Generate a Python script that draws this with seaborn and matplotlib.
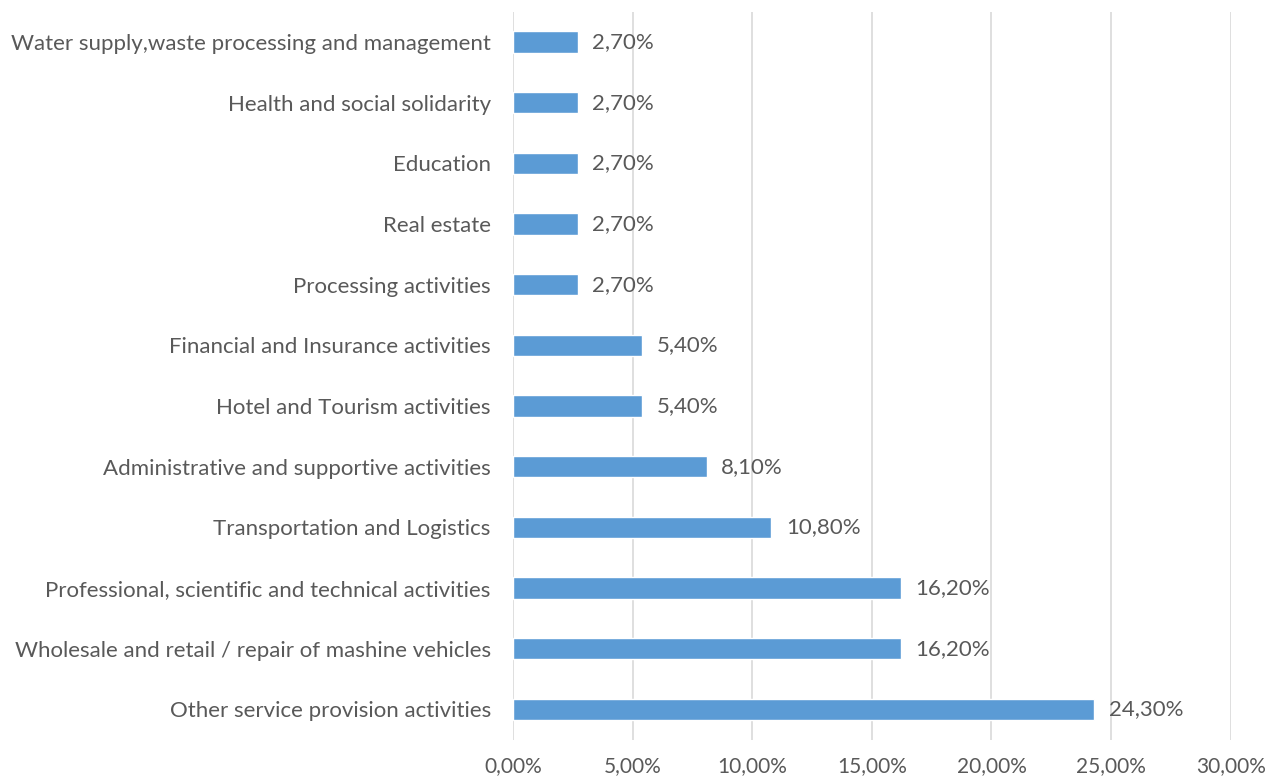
import matplotlib
matplotlib.use("Agg")
import matplotlib.pyplot as plt
import seaborn as sns
import pandas as pd

categories = [
    "Water supply,waste processing and management",
    "Health and social solidarity",
    "Education",
    "Real estate",
    "Processing activities",
    "Financial and Insurance activities",
    "Hotel and Tourism activities",
    "Administrative and supportive activities",
    "Transportation and Logistics",
    "Professional, scientific and technical activities",
    "Wholesale and retail / repair of mashine vehicles",
    "Other service provision activities",
]
shares = [2.7, 2.7, 2.7, 2.7, 2.7, 5.4, 5.4, 8.1, 10.8, 16.2, 16.2, 24.3]
x_ticks = [0, 5, 10, 15, 20, 25, 30]

df = pd.DataFrame({"Activity": categories, "Share": shares})

sns.set_theme(style="white")
plt.rcParams["font.family"] = ["Lato", "DejaVu Sans"]
text_color = "#595959"

fig = plt.figure(figsize=(12.7, 7.81), dpi=100)
ax = fig.add_axes([0.404, 0.053, 0.565, 0.932])

sns.barplot(data=df, y="Activity", x="Share", color="#5B9BD5", width=0.35,
            saturation=1, ax=ax, orient="h")

# percent labels with comma decimals
for i, v in enumerate(shares):
    ax.text(v + 0.6, i, f"{v:.2f}%".replace(".", ","), va="center", ha="left",
            fontsize=16, color=text_color)

ax.set_xlim(0, 30)
ax.set_xticks(x_ticks)
ax.set_xticklabels([f"{t:.2f}%".replace(".", ",") for t in x_ticks])
ax.grid(axis="x", color="#D9D9D9", linewidth=1.2)
ax.set_axisbelow(True)
for s in ax.spines.values():
    s.set_visible(False)
ax.set_xlabel("")
ax.set_ylabel("")
ax.tick_params(axis="both", length=0, labelsize=16, labelcolor=text_color)
ax.tick_params(axis="y", pad=16)
ax.tick_params(axis="x", pad=12, labelsize=15)

fig.savefig("out.png", dpi=100)
